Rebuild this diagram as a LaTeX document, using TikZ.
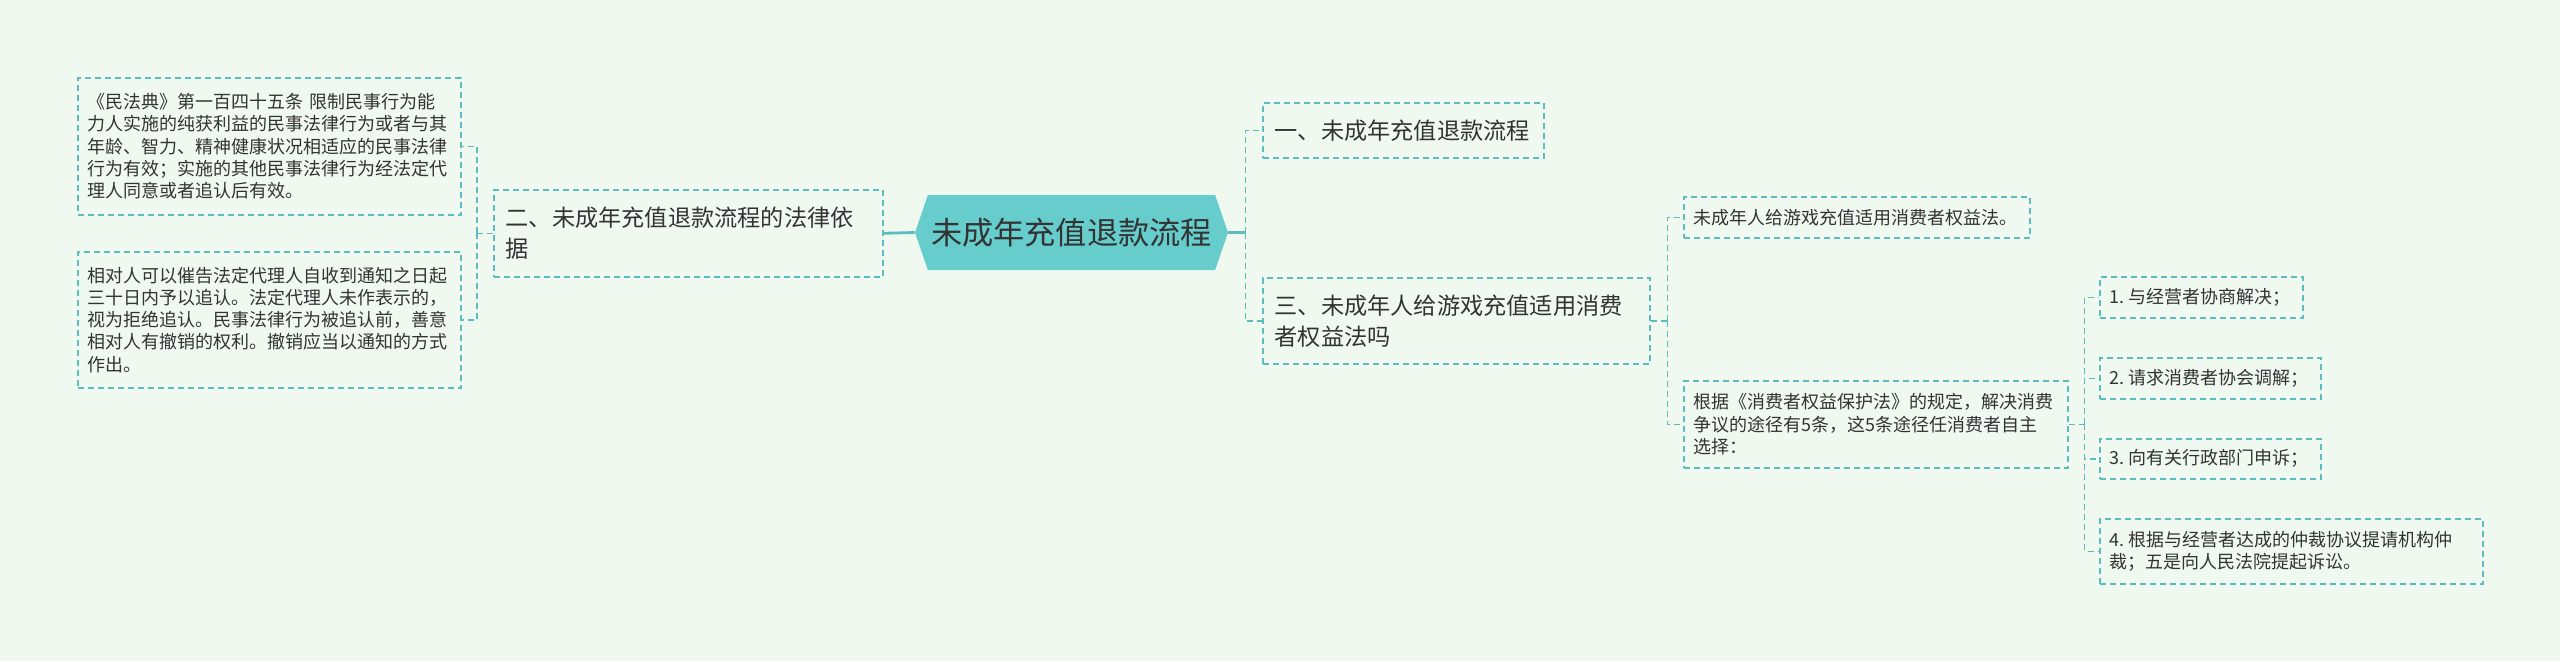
\documentclass[tikz,border=0pt]{standalone}
\usepackage{fontspec}
\setmainfont{Noto Sans CJK SC}
\usepackage{tikz}
\usetikzlibrary{positioning, shapes.symbols}
\definecolor{paper}{RGB}{240,249,240}
\definecolor{lagoon}{RGB}{92,188,192}
\definecolor{hubfill}{RGB}{102,204,204}
\definecolor{ink}{RGB}{51,51,51}

\begin{document}
\begin{tikzpicture}[
    x=0.5pt, y=-0.5pt,
    hub/.style={signal,signal to=east and west,signal pointer angle=142,
               fill=hubfill,draw=none,text=ink,inner sep=0pt,
               minimum width=156.5pt,minimum height=37.5pt,
               font=\fontsize{15.6}{18}\selectfont},
    box/.style={draw=lagoon,dash pattern=on 3pt off 2pt,line width=0.75pt,
               text=ink,align=left,anchor=north west,inner ysep=0pt},
    sec/.style={box,inner xsep=6pt,font=\fontsize{11.6}{15.5}\selectfont},
    note/.style={box,inner xsep=5pt,font=\fontsize{9}{11.1}\selectfont},
    link/.style={draw=lagoon,dash pattern=on 3pt off 2pt,line width=0.75pt},
    trunk/.style={draw=lagoon,line width=1.4pt}]

  \fill[paper] (0,0) rectangle (2560,661);
  \useasboundingbox (0,0) rectangle (2560,661);

  \node[hub] (root) at (1071.5,232.5) {未成年充值退款流程};

  \node[sec,text width=128.5pt,minimum height=27.5pt] (sec1) at (1262,102)
       {一、未成年充值退款流程};
  \node[sec,text width=182.5pt,minimum height=43.5pt] (sec2) at (493,189)
       {二、未成年充值退款流程的法律依\\据};
  \node[sec,text width=181.5pt,minimum height=43pt] (sec3) at (1262,277)
       {三、未成年人给游戏充值适用消费\\者权益法吗};

  \node[note,text width=181.5pt,minimum height=68.5pt] (law1) at (77,77)
       {《民法典》第一百四十五条\kern3pt 限制民事行为能\\力人实施的纯获利益的民事法律行为或者与其\\年龄、智力、精神健康状况相适应的民事法律\\行为有效；实施的其他民事法律行为经法定代\\理人同意或者追认后有效。};
  \node[note,text width=181.5pt,minimum height=68pt] (law2) at (77,251)
       {相对人可以催告法定代理人自收到通知之日起\\三十日内予以追认。法定代理人未作表示的，\\视为拒绝追认。民事法律行为被追认前，善意\\相对人有撤销的权利。撤销应当以通知的方式\\作出。};

  \node[note,text width=163pt,minimum height=20.5pt] (ans1) at (1683,196)
       {未成年人给游戏充值适用消费者权益法。};
  \node[note,text width=182pt,minimum height=43.5pt] (ans2) at (1683,380)
       {根据《消费者权益保护法》的规定，解决消费\\争议的途径有5条，这5条途径任消费者自主\\选择：};

  \node[note,text width=91.5pt,minimum height=20.5pt] (way1) at (2099,276)
       {1.\kern2pt 与经营者协商解决；};
  \node[note,text width=100.5pt,minimum height=20.5pt] (way2) at (2099,357)
       {2.\kern2pt 请求消费者协会调解；};
  \node[note,text width=100.5pt,minimum height=20pt] (way3) at (2099,438)
       {3.\kern2pt 向有关行政部门申诉；};
  \node[note,text width=181.5pt,minimum height=32.5pt] (way4) at (2099,518)
       {4.\kern2pt 根据与经营者达成的仲裁协议提请机构仲\\裁；五是向人民法院提起诉讼。};

  \draw[trunk] (sec2.east) -- (root.west);
  \draw[trunk] (root.east) -- ++(17,0) coordinate (rbus);
  \draw[link] (rbus) |- (sec1.west);
  \draw[link] (rbus) |- (sec3.west);

  \draw[link] (sec2.west) -- ++(-16,0) coordinate (lbus);
  \draw[link] (lbus) |- (law1.east);
  \draw[link] (lbus) |- (law2.east);

  \draw[link] (sec3.east) -- ++(17,0) coordinate (abus);
  \draw[link] (abus) |- (ans1.west);
  \draw[link] (abus) |- (ans2.west);

  \draw[link] (ans2.east) -- ++(16,0) coordinate (wbus);
  \foreach \w in {way1,way2,way3,way4}
    \draw[link] (wbus) |- (\w.west);
\end{tikzpicture}
\end{document}
